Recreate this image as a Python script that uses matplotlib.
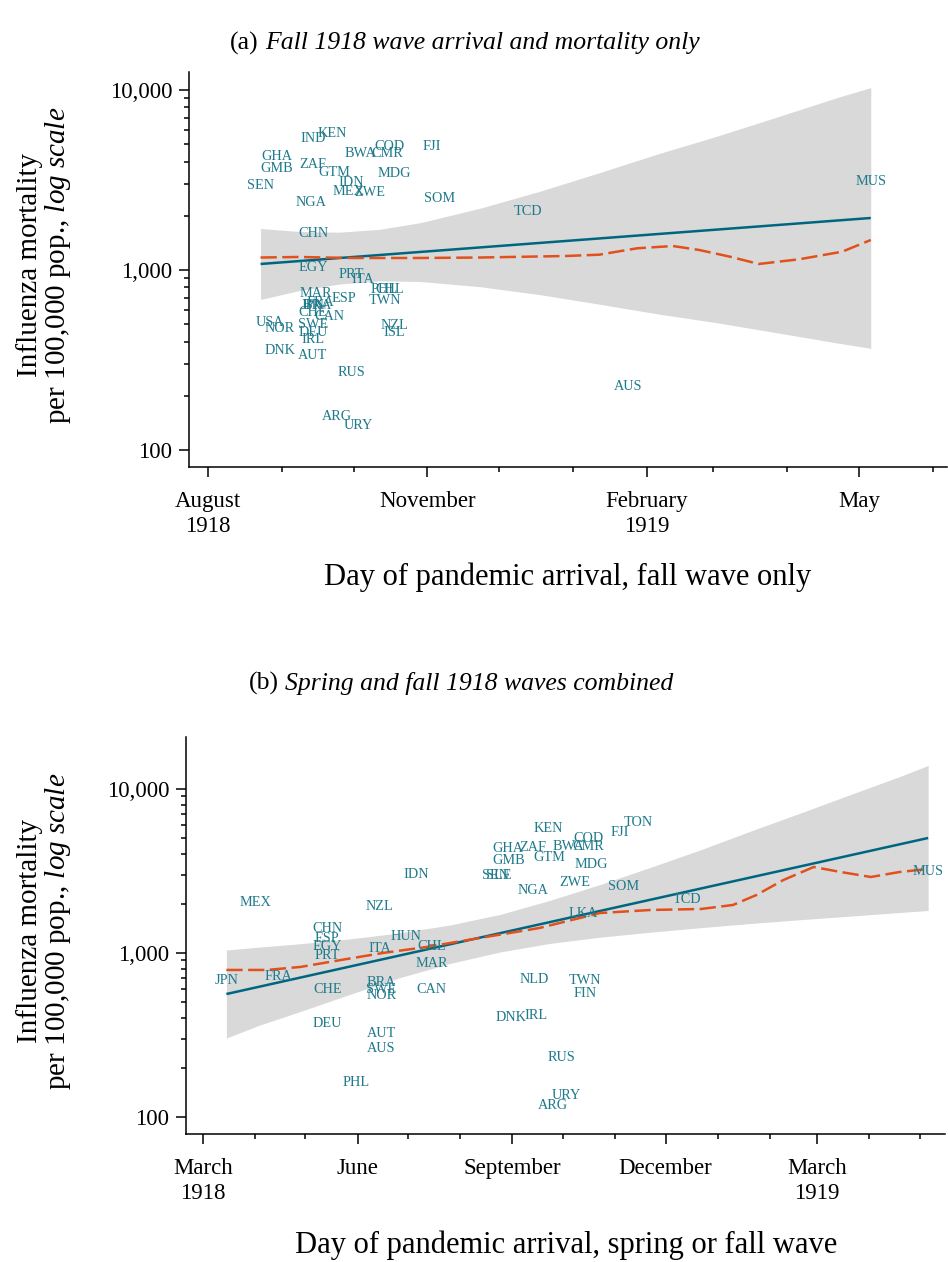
# Influenza mortality vs. day of pandemic arrival, two panels (fall only / spring+fall)
import numpy as np
import pandas as pd
import matplotlib
matplotlib.use("Agg")
import matplotlib.pyplot as plt
import matplotlib.dates as mdates
from matplotlib.ticker import FixedLocator, NullFormatter

plt.rcParams['font.family'] = ['Liberation Serif', 'DejaVu Serif']
plt.rcParams['mathtext.fontset'] = 'custom'
plt.rcParams['mathtext.rm'] = 'Liberation Serif'
plt.rcParams['mathtext.it'] = 'Liberation Serif:italic'

# ---- panel (a): fall 1918 wave only ----
codes_a = ['IND', 'KEN', 'GHA', 'GMB', 'ZAF', 'SEN', 'GTM', 'IDN', 'MEX', 'ZWE',
           'NGA', 'BWA', 'CMR', 'COD', 'MDG', 'FJI', 'SOM', 'TCD', 'MUS', 'CHN',
           'EGY', 'PRT', 'ITA', 'PHL', 'CHL', 'TWN', 'MAR', 'FRA', 'ESP', 'BRA',
           'JPN', 'CHE', 'CAN', 'USA', 'NOR', 'SWE', 'DEU', 'IRL', 'DNK', 'AUT',
           'RUS', 'NZL', 'ISL', 'ARG', 'URY', 'AUS']
dates_a = ['1918-09-14', '1918-09-22', '1918-08-30', '1918-08-30', '1918-09-14',
           '1918-08-23', '1918-09-23', '1918-09-30', '1918-09-29', '1918-10-08',
           '1918-09-13', '1918-10-04', '1918-10-15', '1918-10-16', '1918-10-18',
           '1918-11-03', '1918-11-06', '1918-12-13', '1919-05-06', '1918-09-14',
           '1918-09-14', '1918-09-30', '1918-10-05', '1918-10-14', '1918-10-16',
           '1918-10-14', '1918-09-15', '1918-09-17', '1918-09-27', '1918-09-16',
           '1918-09-14', '1918-09-14', '1918-09-21', '1918-08-27', '1918-08-31',
           '1918-09-14', '1918-09-14', '1918-09-14', '1918-08-31', '1918-09-14',
           '1918-09-30', '1918-10-18', '1918-10-18', '1918-09-24', '1918-10-03',
           '1919-01-24']
mort_a = [5345, 5700, 4245, 3640, 3880, 2930, 3460, 3045, 2747, 2680,
          2385, 4410, 4410, 4885, 3415, 4885, 2480, 2100, 3120, 1585,
          1039, 950, 891, 784, 784, 673, 745, 664, 690, 639,
          631, 577, 555, 508, 476, 501, 447, 409, 359, 333,
          271, 489, 447, 154, 136, 224]

fit_a_dates = ['1918-08-23', '1919-05-06']
fit_a = [1080, 1945]
band_a_dates = ['1918-08-23', '1918-09-08', '1918-09-25', '1918-10-12', '1918-10-29',
                '1918-11-23', '1918-12-18', '1919-01-12', '1919-02-06', '1919-03-03',
                '1919-03-28', '1919-04-22', '1919-05-06']
band_a_low = [686, 767, 836, 870, 863, 808, 730, 646, 569, 508, 447, 393, 367]
band_a_high = [1701, 1636, 1622, 1683, 1831, 2202, 2734, 3467, 4428, 5567, 7098, 9085, 10311]
smooth_a_dates = ['1918-08-23', '1918-09-08', '1918-09-30', '1918-10-29', '1918-11-23',
                  '1918-12-29', '1919-01-12', '1919-01-28', '1919-02-12', '1919-02-23',
                  '1919-03-08', '1919-03-20', '1919-04-06', '1919-04-24', '1919-05-06']
smooth_a = [1173, 1181, 1166, 1166, 1173, 1196, 1216, 1320, 1359, 1292,
            1185, 1080, 1147, 1264, 1468]

xticks_a = ['1918-08-01', '1918-11-01', '1919-02-01', '1919-05-01']
xlabels_a = ['August\n1918', 'November', 'February\n1919', 'May']

# ---- panel (b): spring and fall waves combined ----
codes_b = ['JPN', 'FRA', 'MEX', 'NZL', 'CHN', 'ESP', 'EGY', 'PRT', 'ITA', 'HUN',
           'CHL', 'MAR', 'CHE', 'BRA', 'SWE', 'NOR', 'CAN', 'DEU', 'AUT', 'AUS',
           'PHL', 'NLD', 'TWN', 'FIN', 'DNK', 'IRL', 'RUS', 'URY', 'ARG', 'KEN',
           'TON', 'FJI', 'COD', 'GHA', 'ZAF', 'BWA', 'CMR', 'GMB', 'GTM', 'MDG',
           'SEN', 'SLE', 'NGA', 'ZWE', 'SOM', 'LKA', 'IDN', 'TCD', 'MUS']
dates_b = ['1918-03-15', '1918-04-15', '1918-04-01', '1918-06-14', '1918-05-14',
           '1918-05-14', '1918-05-14', '1918-05-14', '1918-06-14', '1918-06-30',
           '1918-07-15', '1918-07-15', '1918-05-14', '1918-06-15', '1918-06-15',
           '1918-06-15', '1918-07-15', '1918-05-14', '1918-06-15', '1918-06-15',
           '1918-05-31', '1918-09-14', '1918-10-14', '1918-10-14', '1918-08-31',
           '1918-09-15', '1918-09-30', '1918-10-03', '1918-09-25', '1918-09-22',
           '1918-11-15', '1918-11-04', '1918-10-16', '1918-08-29', '1918-09-13',
           '1918-10-04', '1918-10-16', '1918-08-30', '1918-09-23', '1918-10-18',
           '1918-08-22', '1918-08-24', '1918-09-13', '1918-10-08', '1918-11-06',
           '1918-10-13', '1918-07-06', '1918-12-14', '1919-05-06']
mort_b = [684, 714, 2018, 1934, 1401, 1234, 1088, 959, 1058, 1252,
          1088, 857, 595, 665, 603, 554, 595, 374, 325, 263,
          163, 694, 675, 570, 402, 413, 232, 136, 117, 5703,
          6205, 5391, 4957, 4307, 4368, 4430, 4430, 3639, 3848, 3441,
          2948, 2948, 2388, 2673, 2526, 1753, 2990, 2105, 3118]

fit_b_dates = ['1918-03-15', '1919-05-06']
fit_b = [562, 5027]
band_b_dates = ['1918-03-15', '1918-04-03', '1918-04-28', '1918-05-28', '1918-06-26',
                '1918-07-26', '1918-08-25', '1918-09-23', '1918-10-23', '1918-11-22',
                '1918-12-22', '1919-01-20', '1919-02-19', '1919-03-21', '1919-04-20',
                '1919-05-06']
band_b_low = [303, 361, 440, 562, 707, 864, 1016, 1143, 1248, 1339,
              1427, 1511, 1596, 1679, 1768, 1816]
band_b_high = [1043, 1085, 1139, 1221, 1326, 1482, 1722, 2090, 2613, 3327,
               4265, 5513, 7129, 9258, 12002, 13912]
smooth_b_dates = ['1918-03-15', '1918-04-08', '1918-04-28', '1918-05-22', '1918-06-16',
                  '1918-07-12', '1918-08-09', '1918-09-17', '1918-10-23', '1918-11-22',
                  '1918-12-22', '1919-01-10', '1919-01-24', '1919-02-09', '1919-02-27',
                  '1919-03-15', '1919-04-02', '1919-04-19', '1919-05-06']
smooth_b = [788, 788, 822, 906, 1000, 1088, 1217, 1420, 1753, 1829,
            1855, 1962, 2258, 2787, 3345, 3118, 2907, 3118, 3252]

xticks_b = ['1918-03-01', '1918-06-01', '1918-09-01', '1918-12-01', '1919-03-01']
xlabels_b = ['March\n1918', 'June', 'September', 'December', 'March\n1919']

yticks = [100, 1000, 10000]
ylabels = ['100', '1,000', '10,000']
yminor = [200, 300, 400, 500, 600, 700, 800, 900,
          2000, 3000, 4000, 5000, 6000, 7000, 8000, 9000]

LABEL_COL = '#1f7a8c'
FIT_COL = '#006680'
SMOOTH_COL = '#e2501b'
BAND_COL = '#d9d9d9'


def d(lst):
    return mdates.date2num(pd.to_datetime(lst))


def draw_panel(ax, codes, dates, mort, fit_dates, fit, band_dates, low, high,
               sm_dates, sm, xticks, xlabels, xlim, ylim):
    ax.fill_between(d(band_dates), low, high, color=BAND_COL, lw=0, zorder=1)
    ax.plot(d(fit_dates), fit, color=FIT_COL, lw=1.8, zorder=2,
            solid_capstyle='butt')
    ax.plot(d(sm_dates), sm, color=SMOOTH_COL, lw=1.8, zorder=2,
            linestyle=(0, (6.5, 2.2)))
    for c, x, y in zip(codes, d(dates), mort):
        ax.text(x, y, c, ha='center', va='center', fontsize=10.3,
                color=LABEL_COL, zorder=3)

    ax.set_yscale('log')
    ax.set_xlim(d(xlim))
    ax.set_ylim(ylim)
    ax.yaxis.set_major_locator(FixedLocator(yticks))
    ax.set_yticklabels(ylabels)
    ax.yaxis.set_minor_locator(FixedLocator(yminor))
    ax.yaxis.set_minor_formatter(NullFormatter())
    ax.xaxis.set_major_locator(FixedLocator(d(xticks)))
    ax.set_xticklabels(xlabels, linespacing=1.25)
    ax.xaxis.set_minor_locator(mdates.MonthLocator())

    for s in ['top', 'right']:
        ax.spines[s].set_visible(False)
    for s in ['left', 'bottom']:
        ax.spines[s].set_linewidth(1.1)
    ax.tick_params(which='major', length=7, width=1.1, labelsize=16.5)
    ax.tick_params(which='minor', length=3.5, width=1.1)
    ax.tick_params(axis='y', which='major', pad=5)
    ax.tick_params(axis='x', which='major', pad=10)


def mixed_title(fig, xc, yc, tag, rest, size):
    # upright panel tag followed by italic text, centred as one line
    r = fig.canvas.get_renderer()
    t1 = fig.text(0, yc, tag, ha='left', va='center', fontsize=size)
    t2 = fig.text(0, yc, rest, ha='left', va='center', fontsize=size, style='italic')
    w1 = t1.get_window_extent(r).width
    w2 = t2.get_window_extent(r).width
    gap = size * 100 / 72 * 0.25
    x0 = xc * fig.bbox.width - (w1 + gap + w2) / 2
    t1.set_x(x0 / fig.bbox.width)
    t2.set_x((x0 + w1 + gap) / fig.bbox.width)


fig = plt.figure(figsize=(9.48, 12.62), dpi=100)

ax1 = fig.add_axes([0.1994, 0.6300, 0.7996, 0.3130])
draw_panel(ax1, codes_a, dates_a, mort_a, fit_a_dates, fit_a, band_a_dates,
           band_a_low, band_a_high, smooth_a_dates, smooth_a, xticks_a, xlabels_a,
           ['1918-07-24', '1919-06-07'], (80.5, 12600))

ax2 = fig.add_axes([0.1962, 0.1014, 0.8006, 0.3146])
draw_panel(ax2, codes_b, dates_b, mort_b, fit_b_dates, fit_b, band_b_dates,
           band_b_low, band_b_high, smooth_b_dates, smooth_b, xticks_b, xlabels_b,
           ['1918-02-19', '1919-05-16'], (78.7, 20750))

# titles
mixed_title(fig, 465 / 948, 1 - 43 / 1262, '(a)',
            'Fall 1918 wave arrival and mortality only', 18.5)
mixed_title(fig, 461 / 948, 1 - 683 / 1262, '(b)',
            'Spring and fall 1918 waves combined', 18.5)

# y labels
for yc in [1 - 265 / 1262, 1 - 931 / 1262]:
    fig.text(30 / 948, yc, 'Influenza mortality', rotation=90,
             ha='center', va='center', fontsize=21)
    fig.text(58 / 948, yc, r'per 100,000 pop., $\mathit{log\ scale}$', rotation=90,
             ha='center', va='center', fontsize=21)

# x labels
fig.text(568 / 948, 1 - 577 / 1262, 'Day of pandemic arrival, fall wave only',
         ha='center', va='center', fontsize=22)
fig.text(566 / 948, 1 - 1245 / 1262, 'Day of pandemic arrival, spring or fall wave',
         ha='center', va='center', fontsize=22)

fig.savefig('out.png', dpi=100)
